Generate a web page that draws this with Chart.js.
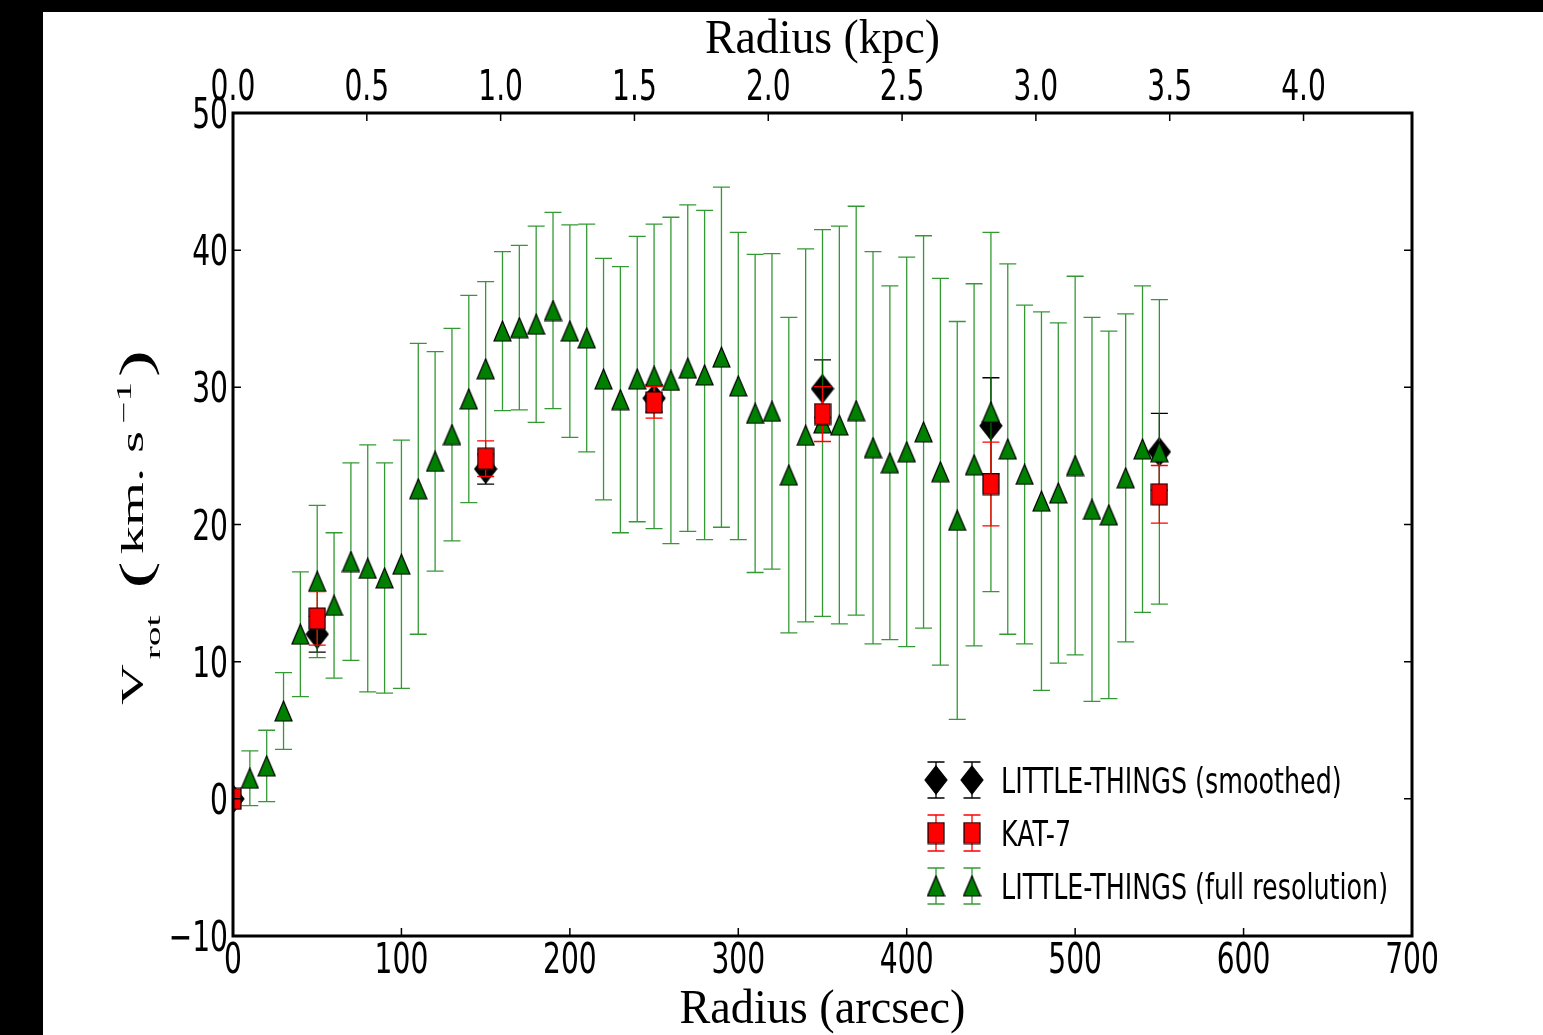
<!DOCTYPE html>
<html lang="en">
<head>
<meta charset="UTF-8">
<title>Rotation curve</title>
<script src="https://cdn.jsdelivr.net/npm/chart.js"></script>
<style>
    html, body { margin: 0; padding: 0; background: #000; overflow: hidden; }
    canvas { display: block; }
</style>
</head>
<body>
<canvas id="rc" width="1543" height="1035"></canvas>
<script>
    // LITTLE-THINGS full resolution (radius in arcsec, km/s)
    const radiusFull = [10, 20, 30, 40, 50, 60, 70, 80, 90, 100,
        110, 120, 130, 140, 150, 160, 170, 180, 190, 200,
        210, 220, 230, 240, 250, 260, 270, 280, 290, 300,
        310, 320, 330, 340, 350, 360, 370, 380, 390, 400,
        410, 420, 430, 440, 450, 460, 470, 480, 490, 500,
        510, 520, 530, 540, 550];
    const vrotFull = [1.5, 2.4, 6.4, 12.0, 15.85, 14.1, 17.3, 16.8, 16.1, 17.1,
        22.6, 24.6, 26.55, 29.15, 31.35, 34.1, 34.35, 34.6, 35.6, 34.1,
        33.6, 30.6, 29.1, 30.6, 30.8, 30.5, 31.4, 30.9, 32.2, 30.1,
        28.1, 28.25, 23.6, 26.5, 27.4, 27.25, 28.3, 25.6, 24.5, 25.3,
        26.75, 23.85, 20.3, 24.35, 28.2, 25.5, 23.65, 21.7, 22.3, 24.3,
        21.1, 20.7, 23.4, 25.5, 25.3];
    const errFull = [2.0, 2.6, 2.8, 4.55, 5.55, 5.3, 7.2, 9.0, 8.4, 9.05,
        10.6, 8.0, 7.75, 7.55, 6.35, 5.8, 6.0, 7.15, 7.15, 7.75,
        8.3, 8.8, 9.7, 10.4, 11.1, 11.9, 11.9, 12.0, 12.4, 11.2,
        11.6, 11.5, 11.5, 13.6, 14.1, 14.5, 14.9, 14.3, 12.9, 14.2,
        14.3, 14.1, 14.5, 13.2, 13.1, 13.5, 12.35, 13.8, 12.4, 13.8,
        14.0, 13.4, 11.95, 11.9, 11.1];

    // KAT-7
    const radiusKat = [0, 50, 150, 250, 350, 450, 550];
    const vrotKat = [0, 13.15, 24.8, 28.9, 28.05, 22.95, 22.2];
    const errKat = [0, 1.95, 1.3, 1.15, 2.0, 3.05, 2.1];

    // LITTLE-THINGS smoothed
    const radiusSmooth = [0, 50, 150, 250, 350, 450, 550];
    const vrotSmooth = [0, 12.0, 24.05, 29.2, 29.9, 27.2, 25.3];
    const errSmooth = [0, 1.3, 1.1, 1.0, 2.1, 3.5, 2.8];

    const arcsecTicks = [0, 100, 200, 300, 400, 500, 600, 700];
    const kpcTicks = [0.0, 0.5, 1.0, 1.5, 2.0, 2.5, 3.0, 3.5, 4.0];
    const vTicks = [-10, 0, 10, 20, 30, 40, 50];
    const arcsecPerKpc = 158.9;

    const SANS = '"DejaVu Sans", sans-serif';
    const SERIF = '"Liberation Serif", "DejaVu Serif", serif';
    const SQUASH = 0.67;

    // narrow marker shapes, drawn once and handed to Chart.js as pointStyle
    function makeMarker(w, h, fill, shape) {
        const c = document.createElement('canvas');
        c.width = w + 2;
        c.height = h + 2;
        const g = c.getContext('2d');
        g.translate(1, 1);
        g.beginPath();
        if (shape === 'tri') {
            g.moveTo(w / 2, 0); g.lineTo(w, h); g.lineTo(0, h);
        } else if (shape === 'sq') {
            g.rect(0, 0, w, h);
        } else {
            g.moveTo(w / 2, 0); g.lineTo(w, h / 2); g.lineTo(w / 2, h); g.lineTo(0, h / 2);
        }
        g.closePath();
        g.fillStyle = fill;
        g.fill();
        g.lineWidth = 1.2;
        g.strokeStyle = '#000';
        g.stroke();
        return c;
    }
    const diamondImg = makeMarker(22, 28, '#000000', 'dia');
    const squareImg = makeMarker(16, 21, '#ff0000', 'sq');
    const triangleImg = makeMarker(17, 20, '#008000', 'tri');

    const toPoints = (xs, ys) => xs.map((x, i) => ({ x: x, y: ys[i] }));

    function squashText(ctx, text, x, y, font, sx, align) {
        ctx.save();
        ctx.font = font;
        ctx.textAlign = align;
        ctx.textBaseline = 'alphabetic';
        ctx.fillStyle = '#000';
        ctx.translate(x, y);
        ctx.scale(sx, 1);
        ctx.fillText(text, 0, 0);
        ctx.restore();
    }

    function fitText(ctx, text, cx, y, font, width) {
        ctx.save();
        ctx.font = font;
        const sx = width / ctx.measureText(text).width;
        ctx.restore();
        squashText(ctx, text, cx, y, font, sx, 'center');
    }

    const setTicks = values => scale => { scale.ticks = values.map(v => ({ value: v })); };

    const hiddenAxis = (position, min, max, values) => ({
        type: 'linear',
        position: position,
        min: min,
        max: max,
        afterBuildTicks: setTicks(values),
        grid: { display: false, drawTicks: false },
        border: { display: false },
        ticks: { display: false },
        title: { display: false }
    });

    // black band round the figure, white paper
    const paper = {
        id: 'paper',
        beforeDraw(chart) {
            const ctx = chart.ctx;
            ctx.save();
            ctx.fillStyle = '#000';
            ctx.fillRect(0, 0, chart.width, chart.height);
            ctx.fillStyle = '#fff';
            ctx.fillRect(43, 12, chart.width - 43, chart.height - 12);
            ctx.restore();
        }
    };

    function drawErrorBar(ctx, px, top, bot, color) {
        ctx.save();
        ctx.strokeStyle = color;
        ctx.lineWidth = 1.3;
        ctx.beginPath();
        ctx.moveTo(px, top); ctx.lineTo(px, bot);
        ctx.moveTo(px - 8.5, top); ctx.lineTo(px + 8.5, top);
        ctx.moveTo(px - 8.5, bot); ctx.lineTo(px + 8.5, bot);
        ctx.stroke();
        ctx.restore();
    }

    const errorBars = {
        id: 'errorBars',
        beforeDatasetDraw(chart, args) {
            const ds = chart.data.datasets[args.index];
            const xs = chart.scales.x, ys = chart.scales.y;
            ds.data.forEach((p, i) => {
                const e = ds.errors[i];
                if (!e) return;
                drawErrorBar(chart.ctx, xs.getPixelForValue(p.x),
                    ys.getPixelForValue(p.y + e), ys.getPixelForValue(p.y - e), ds.errColor);
            });
        }
    };

    function drawYTitle(ctx) {
        const pieces = [
            { t: 'V', f: '46px ' + SERIF, dy: 0, gap: 4 },
            { t: 'rot', f: '32px ' + SERIF, dy: 26, gap: 22 },
            { t: '(', f: '66px ' + SERIF, dy: 10, gap: 6 },
            { t: 'km.', f: '46px ' + SERIF, dy: 0, gap: 12 },
            { t: 's', f: '46px ' + SERIF, dy: 0, gap: 6 },
            { t: '\u22121', f: '32px ' + SERIF, dy: -18, gap: 4 },
            { t: ')', f: '66px ' + SERIF, dy: 10, gap: 0 }
        ];
        ctx.save();
        let total = 0;
        pieces.forEach(p => {
            ctx.font = p.f;
            p.w = ctx.measureText(p.t).width;
            total += p.w + p.gap;
        });
        ctx.translate(143, 705);
        ctx.rotate(-Math.PI / 2);
        ctx.scale(355 / total, SQUASH);
        ctx.fillStyle = '#000';
        ctx.textAlign = 'left';
        ctx.textBaseline = 'alphabetic';
        let pos = 0;
        pieces.forEach(p => {
            ctx.font = p.f;
            ctx.fillText(p.t, pos, p.dy);
            pos += p.w + p.gap;
        });
        ctx.restore();
    }

    // spines, inward ticks, labels, titles, legend
    const frame = {
        id: 'frame',
        afterDraw(chart) {
            const ctx = chart.ctx;
            const a = chart.chartArea;
            const xs = chart.scales.x, xk = chart.scales.xk, ys = chart.scales.y;
            const tickFont = '42px ' + SANS;

            ctx.save();
            ctx.strokeStyle = '#000';
            ctx.lineWidth = 1.5;
            ctx.beginPath();
            xs.ticks.forEach(t => {
                const px = xs.getPixelForValue(t.value);
                ctx.moveTo(px, a.bottom); ctx.lineTo(px, a.bottom - 8);
            });
            xk.ticks.forEach(t => {
                const px = xk.getPixelForValue(t.value);
                ctx.moveTo(px, a.top); ctx.lineTo(px, a.top + 8);
            });
            ys.ticks.forEach(t => {
                const py = ys.getPixelForValue(t.value);
                ctx.moveTo(a.left, py); ctx.lineTo(a.left + 8, py);
                ctx.moveTo(a.right, py); ctx.lineTo(a.right - 8, py);
            });
            ctx.stroke();
            ctx.lineWidth = 3;
            ctx.strokeRect(a.left, a.top, a.right - a.left, a.bottom - a.top);
            ctx.restore();

            xs.ticks.forEach(t => {
                squashText(ctx, String(t.value), xs.getPixelForValue(t.value), 973, tickFont, SQUASH, 'center');
            });
            xk.ticks.forEach(t => {
                squashText(ctx, t.value.toFixed(1), xk.getPixelForValue(t.value), 100, tickFont, SQUASH, 'center');
            });
            ys.ticks.forEach(t => {
                const label = t.value < 0 ? '\u2212' + Math.abs(t.value) : String(t.value);
                squashText(ctx, label, a.left - 5, ys.getPixelForValue(t.value) + 15, tickFont, SQUASH, 'right');
            });

            const midX = (a.left + a.right) / 2;
            fitText(ctx, 'Radius (kpc)', midX, 53, '48px ' + SERIF, 235);
            fitText(ctx, 'Radius (arcsec)', midX, 1023, '48px ' + SERIF, 286);
            drawYTitle(ctx);

            // legend: two markers with error bars per entry
            const rowsY = [780, 833, 886];
            chart.data.datasets.forEach((ds, i) => {
                const cy = rowsY[i];
                [936, 972].forEach(mx => {
                    drawErrorBar(ctx, mx, cy - 18, cy + 18, ds.errColor);
                    const img = ds.pointStyle;
                    ctx.drawImage(img, mx - img.width / 2, cy - img.height / 2);
                });
                squashText(ctx, ds.label, 1001, cy + 13, '36px ' + SANS, 0.705, 'left');
            });
        }
    };

    new Chart(document.getElementById('rc'), {
        type: 'scatter',
        data: {
            datasets: [
                {
                    label: 'LITTLE-THINGS (smoothed)',
                    data: toPoints(radiusSmooth, vrotSmooth),
                    errors: errSmooth,
                    errColor: '#000000',
                    pointStyle: diamondImg,
                    pointRadius: 12,
                    order: 2
                },
                {
                    label: 'KAT-7',
                    data: toPoints(radiusKat, vrotKat),
                    errors: errKat,
                    errColor: '#ff0000',
                    pointStyle: squareImg,
                    pointRadius: 10,
                    order: 0
                },
                {
                    label: 'LITTLE-THINGS (full resolution)',
                    data: toPoints(radiusFull, vrotFull),
                    errors: errFull,
                    errColor: 'rgba(0, 128, 0, 0.8)',
                    pointStyle: triangleImg,
                    pointRadius: 10,
                    order: 1
                }
            ]
        },
        options: {
            responsive: false,
            animation: false,
            devicePixelRatio: 1,
            events: [],
            layout: {
                autoPadding: false,
                padding: { left: 233, right: 131, top: 113, bottom: 99 }
            },
            plugins: {
                legend: { display: false },
                tooltip: { enabled: false }
            },
            scales: {
                x: hiddenAxis('bottom', 0, 700, arcsecTicks),
                xk: hiddenAxis('top', 0, 700 / arcsecPerKpc, kpcTicks),
                y: hiddenAxis('left', -10, 50, vTicks)
            }
        },
        plugins: [paper, errorBars, frame]
    });
</script>
</body>
</html>
